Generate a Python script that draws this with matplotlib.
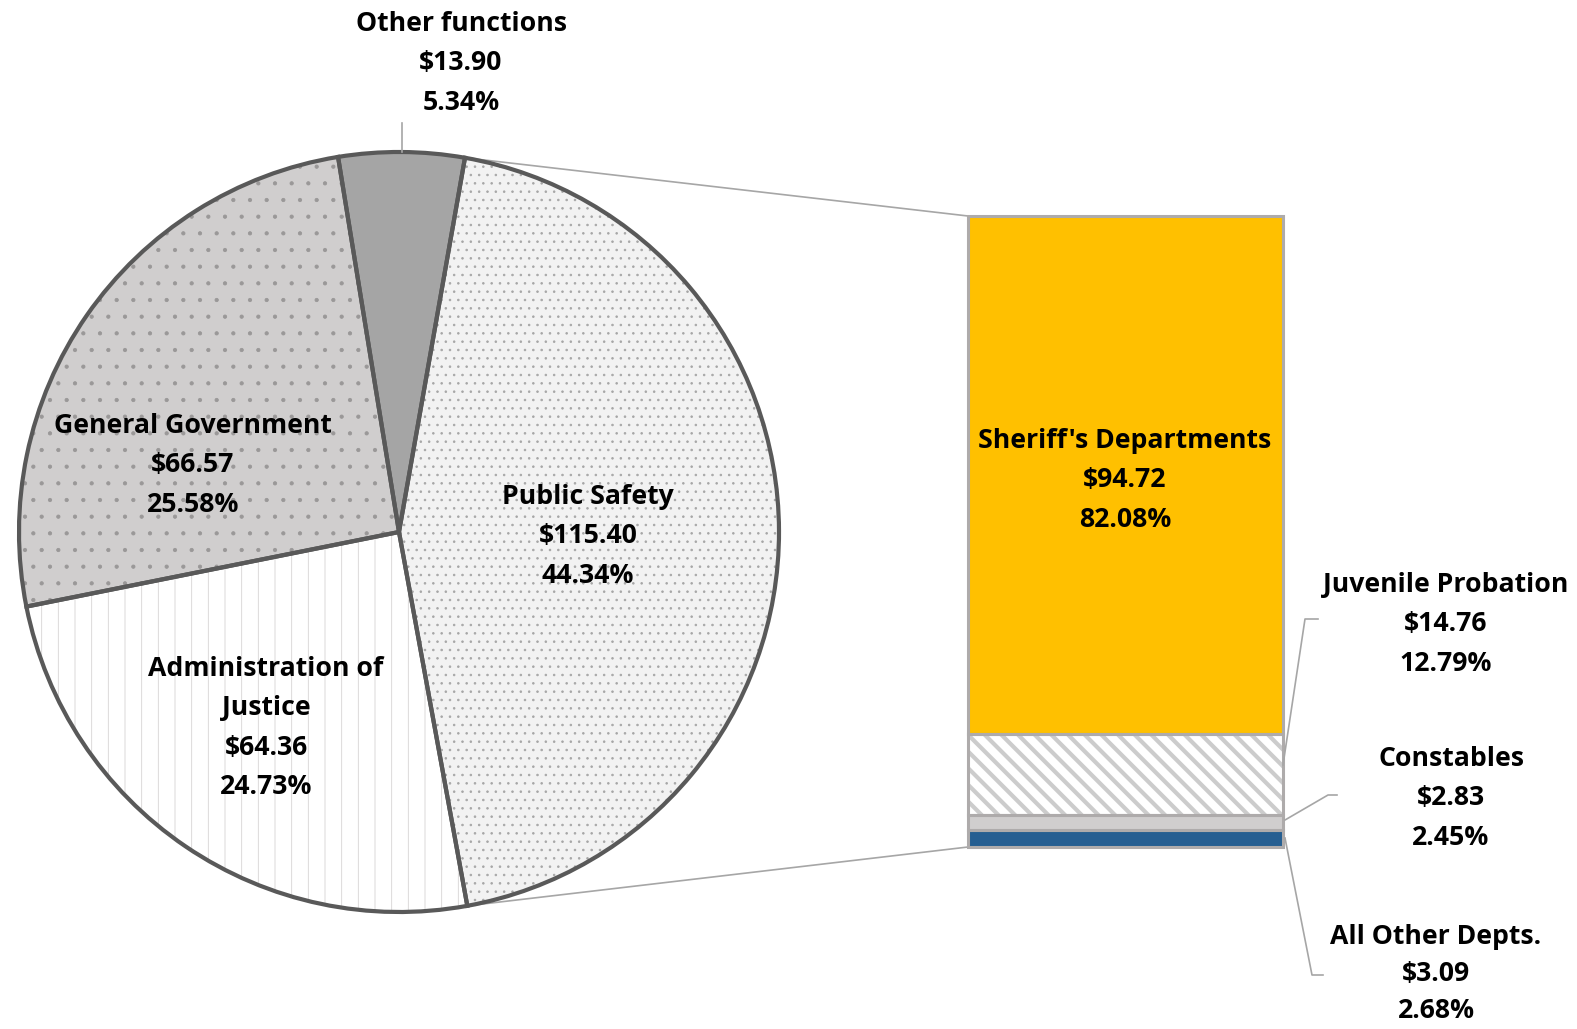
import matplotlib
matplotlib.use("Agg")
import matplotlib.pyplot as plt
from matplotlib.patches import ConnectionPatch
import numpy as np

plt.rcParams['font.family'] = ['Open Sans', 'DejaVu Sans']
plt.rcParams['hatch.linewidth'] = 0.6

# ---------------- data ----------------
pie_labels = ["Public Safety", "Administration of\nJustice", "General Government", "Other functions"]
pie_values = [115.40, 64.36, 66.57, 13.90]
pie_pcts = [44.34, 24.73, 25.58, 5.34]

bar_labels = ["All Other Depts.", "Constables", "Juvenile Probation", "Sheriff's Departments"]
bar_values = [3.09, 2.83, 14.76, 94.72]
bar_pcts = [2.68, 2.45, 12.79, 82.08]

# ---------------- styles ----------------
pie_colors = ["#F2F2F2", "#FFFFFF", "#D0CECE", "#A5A5A5"]
pie_hatches = ["..", "|", ".", None]
pie_hatch_colors = ["#A6A6A6", "#D6D4D4", "#9A9898", "#A5A5A5"]
bar_colors = ["#255E91", "#D0CECE", "#FFFFFF", "#FFC000"]
bar_hatches = [None, None, "\\\\", None]
bar_hatch_colors = ["#255E91", "#D0CECE", "#CCCCCC", "#FFC000"]

W, H = 1577, 1029
fig = plt.figure(figsize=(W / 100, H / 100), dpi=100)

# ---------------- pie ----------------
cx, cy, r = 399, 532, 380
axp = fig.add_axes([(cx - r) / W, 1 - (cy + r) / H, 2 * r / W, 2 * r / H])
start = 80.0
wedges, _ = axp.pie(pie_values, startangle=start, counterclock=False,
                    colors=pie_colors, radius=1)
for w, h, hc in zip(wedges, pie_hatches, pie_hatch_colors):
    w.set_edgecolor(hc)
    w.set_linewidth(0)
    if h:
        w.set_hatch(h)
    w.set_clip_on(False)
outl, _ = axp.pie(pie_values, startangle=start, counterclock=False, radius=1,
                  colors=["none"] * len(pie_values),
                  wedgeprops=dict(edgecolor="#595959", linewidth=3, fill=False))
for w in outl:
    w.set_clip_on(False)
axp.set_xlim(-1, 1)
axp.set_ylim(-1, 1)
axp.axis("off")

# ---------------- bar ----------------
bx0, bx1, by0, by1 = 968, 1283, 216, 847
axb = fig.add_axes([bx0 / W, 1 - by1 / H, (bx1 - bx0) / W, (by1 - by0) / H])
bottoms = np.concatenate([[0], np.cumsum(bar_values)[:-1]])
total = float(np.sum(bar_values))
fills = axb.bar([0] * len(bar_values), bar_values, bottom=bottoms, width=1,
                color=bar_colors, linewidth=0)
for p, h, hc in zip(fills, bar_hatches, bar_hatch_colors):
    p.set_edgecolor(hc)
    p.set_linewidth(0)
    if h:
        p.set_hatch(h)
        if hasattr(p, "set_hatch_linewidth"):
            p.set_hatch_linewidth(3.0)
    p.set_clip_on(False)
outs = axb.bar([0] * len(bar_values), bar_values, bottom=bottoms, width=1,
               fill=False, edgecolor="#AEABAB", linewidth=2.2)
for p in outs:
    p.set_clip_on(False)
axb.set_xlim(-0.5, 0.5)
axb.set_ylim(0, total)
axb.axis("off")

# connection lines pie -> bar
ps = wedges[0]
for ang, yb in [(ps.theta2, total), (ps.theta1, 0)]:
    xy = (np.cos(np.radians(ang)), np.sin(np.radians(ang)))
    con = ConnectionPatch(xyA=xy, coordsA=axp.transData, xyB=(-0.5, yb),
                          coordsB=axb.transData, color="#A6A6A6", lw=1.2, zorder=0)
    fig.add_artist(con)

# ---------------- overlay for labels ----------------
axo = fig.add_axes([0, 0, 1, 1])
axo.set_xlim(0, W)
axo.set_ylim(H, 0)
axo.axis("off")

fs = 19.2
lead = "#A6A6A6"


def label(x, y_first, text, step=39.4):
    for i, line in enumerate(text.split("\n")):
        axo.text(x, y_first + i * step, line, ha="center", va="center_baseline",
                 fontsize=fs, fontweight="bold", color="black")


# (x center, y of first line, line step) in pixels
pie_pos = [(588, 494, 39.4), (266, 666, 39.4), (193, 423, 39.4), (461, 21, 39.4)]
for lab, v, pc, (x, y, st) in zip(pie_labels, pie_values, pie_pcts, pie_pos):
    label(x, y, f"{lab}\n${v:.2f}\n{pc:.2f}%", st)

bar_pos = [(1436, 934, 37.0), (1451, 756, 39.4), (1446, 582, 39.4), (1125, 438, 39.4)]
for lab, v, pc, (x, y, st) in zip(bar_labels, bar_values, bar_pcts, bar_pos):
    label(x, y, f"{lab}\n${v:.2f}\n{pc:.2f}%", st)

# leader lines
axo.plot([402, 402], [123, 152], color=lead, lw=1.2)
axo.plot([1318, 1305, 1283], [619, 619, 765], color=lead, lw=1.2)
axo.plot([1337, 1328, 1285], [795, 795, 820], color=lead, lw=1.2)
axo.plot([1285, 1312, 1323], [838, 975, 975], color=lead, lw=1.2)

fig.savefig("out.png", dpi=100, facecolor="white")
